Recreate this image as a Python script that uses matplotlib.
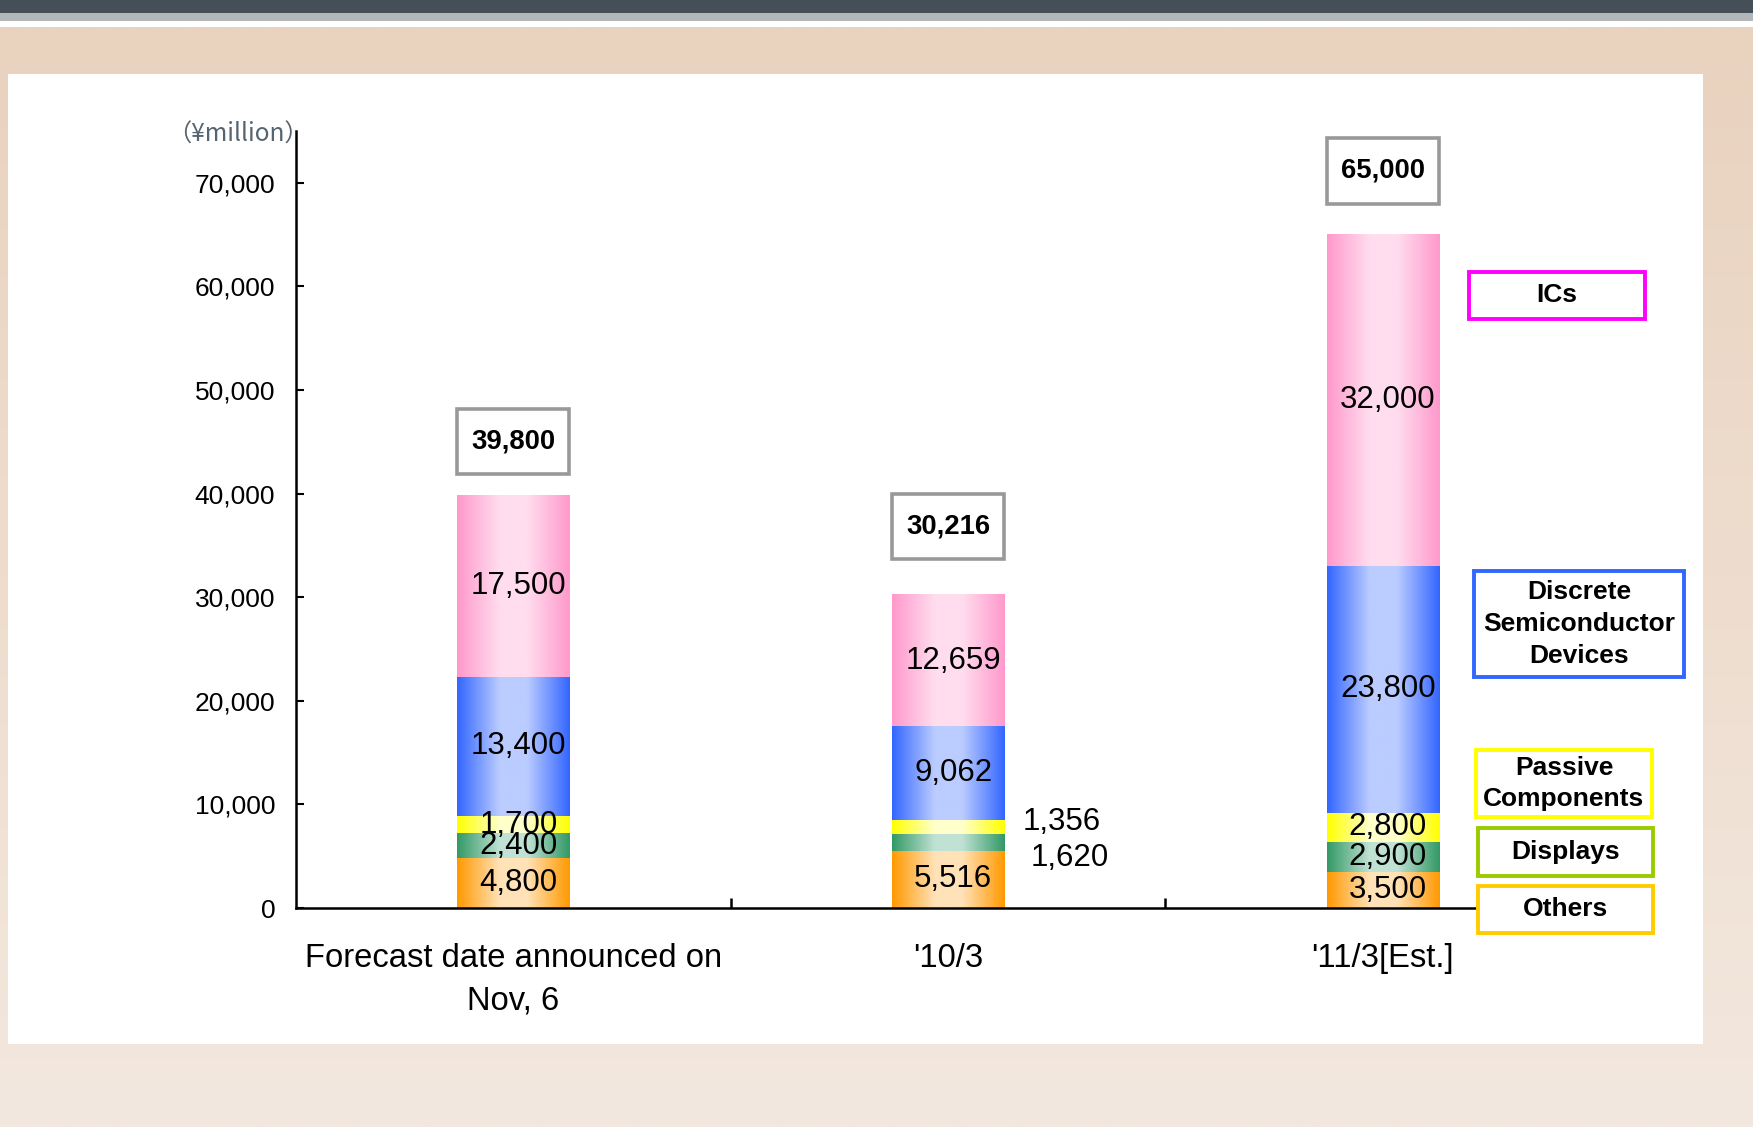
import numpy as np
import matplotlib
matplotlib.use('Agg')
import matplotlib.pyplot as plt
from matplotlib.patches import Rectangle
from matplotlib.colors import to_rgb
from matplotlib.ticker import FuncFormatter

# ---------------- data ----------------
categories = ['Forecast date announced on\nNov, 6', "'10/3", "'11/3[Est.]"]
others = [4800, 5516, 3500]
displays = [2400, 1620, 2900]
passive = [1700, 1356, 2800]
discrete = [13400, 9062, 23800]
ics = [17500, 12659, 32000]
totals = [39800, 30216, 65000]
y_ticks = [0, 10000, 20000, 30000, 40000, 50000, 60000, 70000]
unit_label = '（¥million）'
legend_labels = ['ICs', 'Discrete\nSemiconductor\nDevices', 'Passive\nComponents', 'Displays', 'Others']

# ---------------- styles ----------------
W, H = 1753, 1129
FONT = ['Liberation Sans', 'DejaVu Sans']
plt.rcParams['font.family'] = FONT

series = [others, displays, passive, discrete, ics]
seg_colors = [('#FF9900', '#FFE2B8'),
              ('#339966', '#C0E2D4'),
              ('#FFFF00', '#FFFFCC'),
              ('#3366FF', '#BBCCFF'),
              ('#FF99CC', '#FFDDEE')]
legend_colors = ['#FF00FF', '#3366FF', '#FFFF00', '#99CC00', '#FFCC00']
# legend boxes in pixel coords (x0, y0, x1, y1)
legend_boxes = [(1469, 272, 1645, 319),
                (1474, 571, 1684, 677),
                (1476, 750, 1652, 817),
                (1478, 828, 1653, 876),
                (1478, 886, 1653, 933)]
box_gaps = [2100, 3450, 3000]   # space between bar top and total box
box_h = 6300

fig = plt.figure(figsize=(W / 100, H / 100), dpi=100)

# ---------------- background ----------------
bg = fig.add_axes([0, 0, 1, 1], zorder=-5)
bg.axis('off')
top_c = np.array(to_rgb('#E9D2BE'))
bot_c = np.array(to_rgb('#F3E8DF'))
t = np.linspace(0, 1, 200)[:, None]
grad = (top_c[None, :] * (1 - t) + bot_c[None, :] * t)[:, None, :]
bg.imshow(grad, extent=[0, W, 1127, 27], aspect='auto', interpolation='bilinear')
bg.add_patch(Rectangle((0, 0), W, 12.5, fc='#444F58', ec='none'))
bg.add_patch(Rectangle((0, 12.5), W, 8.5, fc='#B2B7BA', ec='none'))
bg.add_patch(Rectangle((0, 21), W, 6, fc='white', ec='none'))
bg.add_patch(Rectangle((8, 74), 1695, 970, fc='white', ec='none'))
bg.add_patch(Rectangle((0, 1127), W, 2, fc='white', ec='none'))
bg.set_xlim(0, W)
bg.set_ylim(H, 0)

# ---------------- main axes ----------------
ax = fig.add_axes([296 / W, 221 / H, 1304 / W, 777 / H])
ax.patch.set_alpha(0)

x = np.arange(len(categories))
bar_w = 0.258


def gradient_img(edge, light):
    e = np.array(to_rgb(edge))
    l = np.array(to_rgb(light))
    s = np.linspace(0, 1, 256)
    f = np.interp(s, [0.0, 0.38, 0.62, 1.0], [0.0, 1.0, 1.0, 0.0])
    img = e[None, :] * (1 - f[:, None]) + l[None, :] * f[:, None]
    return img[None, :, :]


bottoms = np.zeros(len(categories))
seg_centers = []
for vals, (edge, light) in zip(series, seg_colors):
    bars = ax.bar(x, vals, bar_w, bottom=bottoms, color='none', edgecolor='none')
    img = gradient_img(edge, light)
    for p in bars:
        x0, y0 = p.get_x(), p.get_y()
        ax.imshow(img, extent=[x0, x0 + p.get_width(), y0, y0 + p.get_height()],
                  aspect='auto', interpolation='bilinear', zorder=1)
    seg_centers.append(bottoms + np.array(vals) / 2)
    bottoms = bottoms + np.array(vals)

# value labels
for si, vals in enumerate(series):
    for i, v in enumerate(vals):
        if i == 1 and si in (1, 2):
            continue
        ax.text(i + 0.012, seg_centers[si][i], f'{v:,}', ha='center', va='center',
                fontsize=22.5, color='black', zorder=4)

# outside labels for the thin segments of '10/3
ax.text(1 + 0.262, others[1] + displays[1] + passive[1] - 150, f'{passive[1]:,}',
        ha='center', va='center', fontsize=22.5, zorder=4)
ax.text(1 + 0.28, others[1] - 650, f'{displays[1]:,}',
        ha='center', va='center', fontsize=22.5, zorder=4)

# total boxes
for i, tot in enumerate(totals):
    g = box_gaps[i]
    ax.add_patch(Rectangle((i - bar_w / 2, tot + g), bar_w, box_h, fc='white',
                           ec='#999999', lw=2.6, clip_on=False, zorder=5))
    ax.text(i, tot + g + box_h / 2, f'{tot:,}', ha='center', va='center',
            fontsize=19.8, fontweight='bold', zorder=6)

ax.set_xlim(-0.5, 2.5)
ax.set_ylim(0, 75000)
ax.set_yticks(y_ticks)
ax.yaxis.set_major_formatter(FuncFormatter(lambda v, p: f'{v:,.0f}'))
ax.tick_params(axis='y', direction='in', length=6, width=1.5, labelsize=19, pad=15)
ax.set_xticks(x)
ax.set_xticklabels(categories, fontsize=23.6, linespacing=1.5)
ax.tick_params(axis='x', which='major', length=0, pad=25)
ax.set_xticks([0.5, 1.5], minor=True)
ax.tick_params(axis='x', which='minor', direction='in', length=7.5, width=1.8)
for s in ['top', 'right']:
    ax.spines[s].set_visible(False)
for s in ['left', 'bottom']:
    ax.spines[s].set_linewidth(1.8)

# unit label
fig.text(309 / W, 1 - 135 / H, unit_label, ha='right', va='center', fontsize=17.5,
         color='#566470', family=['Noto Sans CJK JP', 'DejaVu Sans'])

# legend boxes
for lab, col, (x0, y0, x1, y1) in zip(legend_labels, legend_colors, legend_boxes):
    r = Rectangle((x0 / W, 1 - y1 / H), (x1 - x0) / W, (y1 - y0) / H,
                  transform=fig.transFigure, fc='white', ec=col, lw=2.8, zorder=5)
    fig.add_artist(r)
    fig.text((x0 + x1) / 2 / W, 1 - (y0 + y1) / 2 / H, lab, ha='center', va='center',
             fontsize=19, fontweight='bold', linespacing=1.4, zorder=6)

fig.savefig('out.png', dpi=100)
